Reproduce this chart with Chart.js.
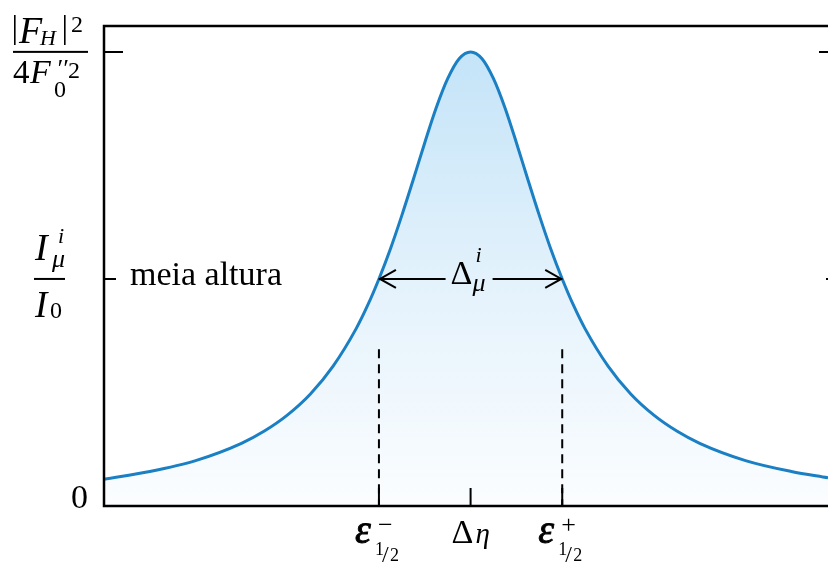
<!DOCTYPE html>
<html>
<head>
  <title>Meia altura</title>
  <script src="https://cdn.jsdelivr.net/npm/chart.js"></script>
<style>
body {
  margin: 0;
  background: #ffffff;
}
#wrap {
  width: 828px;
  height: 563px;
  position: relative;
}
</style>
</head>
<body>

  <div id="wrap">
    <canvas id="peakChart"></canvas>
  </div>

  <script>
    // detuning (in half-widths) and reflected intensity
    const detuning = [-4, -3.5, -3, -2.5, -2.25, -2, -1.75, -1.5, -1.25, -1.125, -1, -0.875, -0.75, -0.625, -0.5, -0.375, -0.25, -0.125, 0,
                      0.125, 0.25, 0.375, 0.5, 0.625, 0.75, 0.875, 1, 1.125, 1.25, 1.5, 1.75, 2, 2.25, 2.5, 3, 3.5, 3.9];
    const intensity = [0.059, 0.076, 0.100, 0.138, 0.165, 0.200, 0.246, 0.308, 0.390, 0.441, 0.500, 0.566, 0.640, 0.719, 0.800, 0.877, 0.941, 0.985, 1.000,
                       0.985, 0.941, 0.877, 0.800, 0.719, 0.640, 0.566, 0.500, 0.441, 0.390, 0.308, 0.246, 0.200, 0.165, 0.138, 0.100, 0.076, 0.062];

    const xTicks = [-1, 0, 1];        // ε−½, Δη, ε+½
    const yTicks = [0, 0.5, 1];       // 0, I/I0, |F_H|²/4F0''²
    const halfHeight = 0.5;
    const dashTop = 0.345;            // where the dashed markers start

    const serif = '"Liberation Serif", "DejaVu Serif", serif';

    function txt(ctx, s, x, y, font, align) {
      ctx.font = font;
      ctx.textAlign = align || 'left';
      ctx.textBaseline = 'alphabetic';
      ctx.fillText(s, x, y);
    }

    const annotations = {
      id: 'annotations',
      afterDatasetsDraw(chart) {
        const ctx = chart.ctx;
        const xs = chart.scales.x, ys = chart.scales.y;
        const a = chart.chartArea;
        ctx.save();
        ctx.strokeStyle = '#000';
        ctx.fillStyle = '#000';
        ctx.lineCap = 'butt';

        // frame (top, left, bottom); the right border sits just off the canvas
        ctx.lineWidth = 2.5;
        ctx.beginPath();
        ctx.moveTo(a.right, a.top);
        ctx.lineTo(a.left, a.top);
        ctx.lineTo(a.left, a.bottom);
        ctx.lineTo(a.right, a.bottom);
        ctx.stroke();

        // ticks on both vertical sides
        const rightEdge = a.right + 10;
        ctx.lineWidth = 2;
        yTicks.slice(1).forEach(v => {
          const y = ys.getPixelForValue(v);
          const len = v === 1 ? 19 : 12;
          ctx.beginPath();
          ctx.moveTo(a.left, y); ctx.lineTo(a.left + len, y);
          ctx.moveTo(a.right, y); ctx.lineTo(rightEdge - len, y);
          ctx.stroke();
        });
        xTicks.forEach(v => {
          const x = xs.getPixelForValue(v);
          ctx.beginPath();
          ctx.moveTo(x, a.bottom); ctx.lineTo(x, a.bottom - 18);
          ctx.stroke();
        });

        // dashed markers at the half-height points
        ctx.setLineDash([9, 6]);
        [xTicks[0], xTicks[2]].forEach(v => {
          const x = xs.getPixelForValue(v);
          ctx.beginPath();
          ctx.moveTo(x, ys.getPixelForValue(dashTop));
          ctx.lineTo(x, a.bottom);
          ctx.stroke();
        });
        ctx.setLineDash([]);

        // double arrow across the width at half height
        const yh = ys.getPixelForValue(halfHeight);
        const xl = xs.getPixelForValue(xTicks[0]);
        const xr = xs.getPixelForValue(xTicks[2]);
        const xc = xs.getPixelForValue(xTicks[1]);
        ctx.lineWidth = 2;
        ctx.beginPath();
        ctx.moveTo(xl, yh); ctx.lineTo(xc - 25, yh);
        ctx.moveTo(xc + 22, yh); ctx.lineTo(xr, yh);
        ctx.moveTo(xl + 17, yh - 9); ctx.lineTo(xl + 1, yh); ctx.lineTo(xl + 17, yh + 9);
        ctx.moveTo(xr - 17, yh - 9); ctx.lineTo(xr - 1, yh); ctx.lineTo(xr - 17, yh + 9);
        ctx.stroke();
        txt(ctx, 'Δ', xc - 20, yh + 5, '34px ' + serif);
        txt(ctx, 'i', xc + 5, yh - 17, 'italic 22px ' + serif);
        txt(ctx, 'μ', xc + 2, yh + 12, 'italic 26px ' + serif);

        txt(ctx, 'meia altura', 130, yh + 6, '34px ' + serif);

        // y tick labels
        txt(ctx, '0', 88, ys.getPixelForValue(0) + 2, '34px ' + serif, 'right');

        const y1 = ys.getPixelForValue(1);
        ctx.fillRect(13, y1 - 1, 75, 2);
        ctx.fillRect(14, 15, 1.6, 30);
        ctx.fillRect(64, 15, 1.6, 30);
        txt(ctx, 'F', 19, y1 - 9, 'italic 38px ' + serif);
        txt(ctx, 'H', 40, y1 - 7, 'italic 22px ' + serif);
        txt(ctx, '2', 71, y1 - 20, '24px ' + serif);
        txt(ctx, '4', 13, y1 + 31, '33px ' + serif);
        txt(ctx, 'F', 30, y1 + 31, 'italic 34px ' + serif);
        txt(ctx, '′′', 56, y1 + 25, 'italic 26px ' + serif);
        txt(ctx, '2', 68, y1 + 26, '24px ' + serif);
        txt(ctx, '0', 54, y1 + 45, '24px ' + serif);

        ctx.fillRect(34, yh - 1, 31, 2);
        txt(ctx, 'I', 35, yh - 19, 'italic 38px ' + serif);
        txt(ctx, 'i', 58, yh - 36, 'italic 22px ' + serif);
        txt(ctx, 'μ', 52, yh - 12, 'italic 26px ' + serif);
        txt(ctx, 'I', 35, yh + 38, 'italic 37px ' + serif);
        txt(ctx, '0', 50, yh + 39, '24px ' + serif);

        // x tick labels
        const base = a.bottom + 37;
        xTicks.forEach((v, i) => {
          const x = xs.getPixelForValue(v);
          if (i === 1) {
            txt(ctx, 'Δ', x - 19, base, '34px ' + serif);
            txt(ctx, 'η', x + 5, base, 'italic 29px ' + serif);
            return;
          }
          // heavier epsilon: fill plus a thin outline
          txt(ctx, 'ε', x - 24, base, 'italic 40px ' + serif);
          ctx.lineWidth = 0.9;
          ctx.strokeText('ε', x - 24, base);
          txt(ctx, i === 0 ? '−' : '+', x - 1, base - 10, '26px ' + serif);
          txt(ctx, '1', x - 4, base + 12, '18px ' + serif);
          txt(ctx, '/', x + 3, base + 19, '24px ' + serif);
          txt(ctx, '2', x + 11, base + 18, '18px ' + serif);
        });

        ctx.restore();
      }
    };

    const ctx = document.getElementById('peakChart').getContext('2d');
    const peakChart = new Chart(ctx, {
      type: 'line',
      data: {
        datasets: [{
          data: detuning.map((d, i) => ({ x: d, y: intensity[i] })),
          borderColor: '#1b7fc4',
          borderWidth: 3,
          pointRadius: 0,
          cubicInterpolationMode: 'monotone',
          fill: 'origin',
          backgroundColor: (c) => {
            const area = c.chart.chartArea;
            if (!area) return 'rgba(200,230,248,0.6)';
            const g = c.chart.ctx.createLinearGradient(0, area.top + 26, 0, area.bottom);
            g.addColorStop(0, '#c4e4f8');
            g.addColorStop(0.55, '#e6f3fc');
            g.addColorStop(1, '#fbfdff');
            return g;
          }
        }]
      },
      options: {
        responsive: true,
        maintainAspectRatio: false,
        animation: false,
        layout: { padding: { left: 104, right: 0, top: 26, bottom: 57 } },
        plugins: {
          legend: { display: false },
          tooltip: { enabled: false }
        },
        scales: {
          x: { type: 'linear', min: -4, max: 3.9, display: false },
          y: { min: 0, max: 1.057, display: false }
        }
      },
      plugins: [annotations]
    });
  </script>

</body>
</html>
